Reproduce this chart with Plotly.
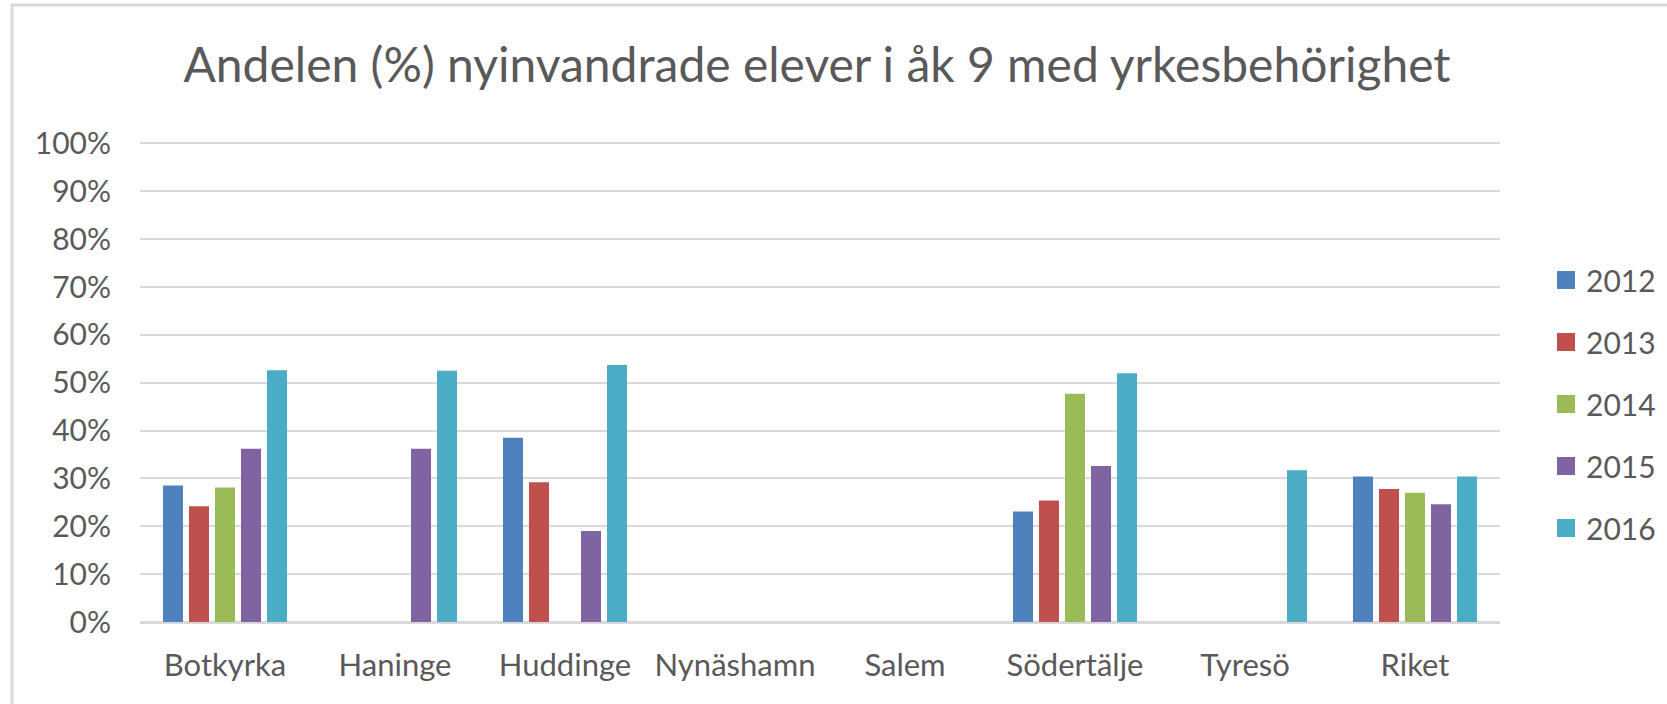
import plotly.graph_objects as go

categories = ["Botkyrka", "Haninge", "Huddinge", "Nynäshamn", "Salem", "Södertälje", "Tyresö", "Riket"]
years = ["2012", "2013", "2014", "2015", "2016"]
v2012 = [0.285, None, 0.385, None, None, 0.231, None, 0.304]
v2013 = [0.242, None, 0.292, None, None, 0.254, None, 0.278]
v2014 = [0.281, None, None, None, None, 0.477, None, 0.270]
v2015 = [0.362, 0.362, 0.190, None, None, 0.326, None, 0.246]
v2016 = [0.526, 0.525, 0.537, None, None, 0.520, 0.317, 0.304]
y_ticks = [0, 0.1, 0.2, 0.3, 0.4, 0.5, 0.6, 0.7, 0.8, 0.9, 1.0]
y_labels = ["0%", "10%", "20%", "30%", "40%", "50%", "60%", "70%", "80%", "90%", "100%"]

series = [v2012, v2013, v2014, v2015, v2016]
colors = ["#4F81BD", "#C0504D", "#9BBB59", "#8064A2", "#4BACC6"]

FONT = "Lato"
TXT = "#595959"

fig = go.Figure()
for name, vals, col in zip(years, series, colors):
    fig.add_trace(go.Bar(x=categories, y=vals, name=name, marker=dict(color=col, line=dict(width=0)),
                         showlegend=False))
for name, col in zip(years, colors):
    fig.add_trace(go.Scatter(x=[None], y=[None], mode="markers", name=name, legendgroup=name,
                             marker=dict(symbol="square", size=16, color=col, line=dict(color=col, width=2))))

W, H = 1667, 704
L, R, T, B = 140, 167, 142, 82
pw, ph = W - L - R, H - T - B

def px2x(px):
    return (px - L) / pw

def py2y(py):
    return (H - B - py) / ph

fig.update_layout(
    width=W, height=H,
    margin=dict(l=L, r=R, t=T, b=B, autoexpand=False),
    paper_bgcolor="white", plot_bgcolor="white",
    barmode="group", bargap=0.235, bargroupgap=0.23,
    font=dict(family=FONT, color=TXT, size=30),
    title=dict(text="Andelen (%) nyinvandrade elever i åk 9 med yrkesbehörighet",
               font=dict(family=FONT, size=48, color=TXT),
               x=px2x(817), xref="paper", xanchor="center",
               y=(H - 65) / H, yref="container", yanchor="middle"),
    xaxis=dict(categoryorder="array", categoryarray=categories, showgrid=False, showline=False,
               zeroline=False, ticks="", ticklabelstandoff=22, tickfont=dict(size=31, color=TXT)),
    yaxis=dict(range=[0, 1.003], tickvals=y_ticks, ticktext=y_labels, showgrid=True,
               gridcolor="#D9D9D9", gridwidth=2, zeroline=True, zerolinecolor="#D9D9D9",
               zerolinewidth=3, showline=False, ticks="", ticklabelstandoff=28,
               tickfont=dict(size=30, color=TXT)),
    legend=dict(x=px2x(1546), xanchor="left", y=py2y(404), yanchor="middle",
                font=dict(size=30, color=TXT), tracegroupgap=20, bgcolor="rgba(0,0,0,0)"),
    shapes=[
        dict(type="line", xref="paper", yref="paper", x0=px2x(11), x1=px2x(1667), y0=py2y(5), y1=py2y(5),
             line=dict(color="#D9D9D9", width=3)),
        dict(type="line", xref="paper", yref="paper", x0=px2x(12), x1=px2x(12), y0=py2y(4), y1=py2y(704),
             line=dict(color="#D9D9D9", width=3)),
    ],
)

fig.write_html("out.html", config={"displayModeBar": False},
               post_script="document.body.style.margin='0';")
